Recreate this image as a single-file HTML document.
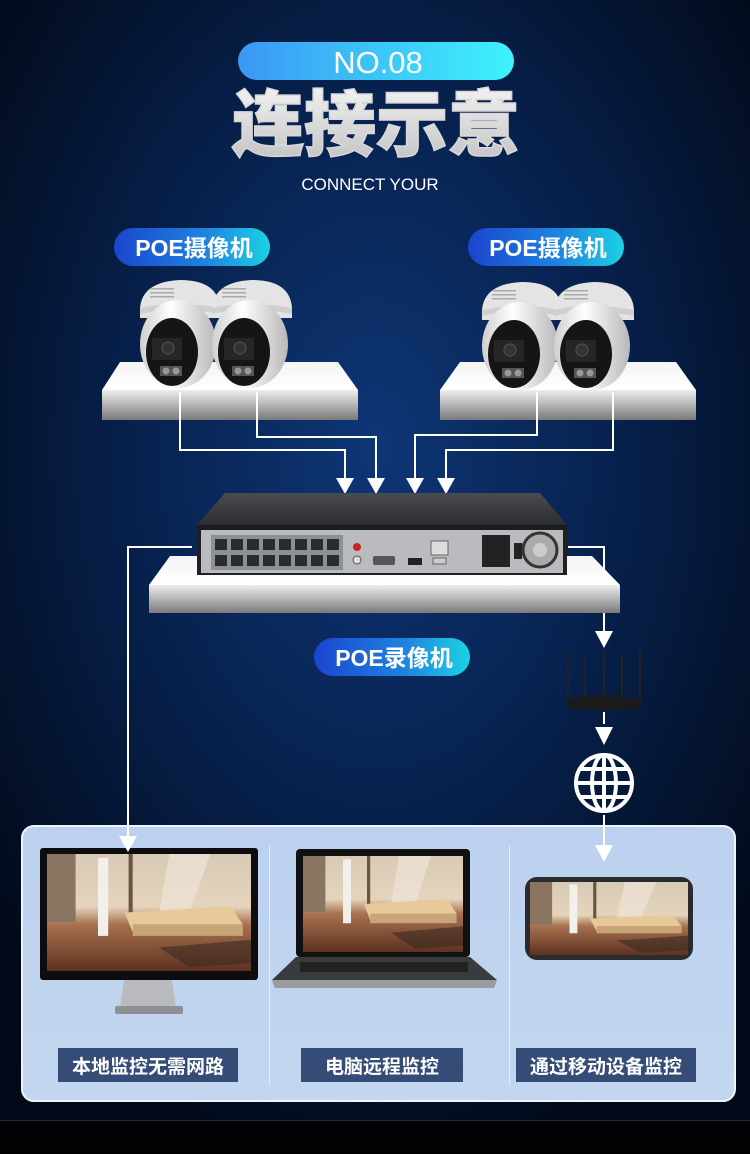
<!DOCTYPE html>
<html><head><meta charset="utf-8"><style>
*{margin:0;padding:0}
body{width:750px;height:1149px;overflow:hidden;background:#000;font-family:"Liberation Sans","Noto Sans CJK SC",sans-serif}
</style></head><body>
<svg width="750" height="1149" viewBox="0 0 750 1149" xmlns="http://www.w3.org/2000/svg" font-family="Liberation Sans, Noto Sans CJK SC, sans-serif">
<defs>
<radialGradient id="bg" cx="0.5" cy="0.4" r="0.65">
<stop offset="0" stop-color="#0e3676"/><stop offset="0.5" stop-color="#07214d"/><stop offset="1" stop-color="#020a1a"/></radialGradient>
<linearGradient id="pill1" x1="0" x2="1"><stop offset="0" stop-color="#3b97f4"/><stop offset="1" stop-color="#3df3fc"/></linearGradient>
<linearGradient id="pill2" x1="0" x2="1"><stop offset="0" stop-color="#1a45cf"/><stop offset="0.6" stop-color="#1f86e0"/><stop offset="1" stop-color="#1cd2e3"/></linearGradient>
<linearGradient id="title" x1="0" y1="0" x2="0" y2="1"><stop offset="0" stop-color="#ffffff"/><stop offset="1" stop-color="#bdbdbd"/></linearGradient>
<linearGradient id="front" x1="0" y1="0" x2="0" y2="1"><stop offset="0" stop-color="#eeeeee"/><stop offset="1" stop-color="#7a7a7a"/></linearGradient>
<linearGradient id="top" x1="0" y1="0" x2="0" y2="1"><stop offset="0" stop-color="#f4f4f4"/><stop offset="1" stop-color="#ffffff"/></linearGradient>
<linearGradient id="ball" x1="0" y1="0" x2="1" y2="0"><stop offset="0" stop-color="#cfcfcf"/><stop offset="0.4" stop-color="#ffffff"/><stop offset="1" stop-color="#b8b8b8"/></linearGradient>
<linearGradient id="nvrtop" x1="0" y1="0" x2="0" y2="1"><stop offset="0" stop-color="#4a4c50"/><stop offset="1" stop-color="#2b2d31"/></linearGradient>
<linearGradient id="room" x1="0" y1="0" x2="0" y2="1"><stop offset="0" stop-color="#d8cab6"/><stop offset="0.45" stop-color="#e4d4bc"/><stop offset="0.6" stop-color="#a87250"/><stop offset="1" stop-color="#5e3220"/></linearGradient>
<linearGradient id="panelbg" x1="0" y1="0" x2="0" y2="1"><stop offset="0" stop-color="#bcd1ef"/><stop offset="1" stop-color="#c3d6ef"/></linearGradient>
<g id="cam">
<path d="M2 36 Q0 4 42 2 Q80 2 82 30 L82 40 L2 40 Z" fill="#e4e4e4"/>
<path d="M2 30 Q40 22 82 30 L82 36 Q40 28 2 36Z" fill="#cfcfcf"/>
<ellipse cx="40" cy="66" rx="38" ry="44" fill="url(#ball)"/>
<ellipse cx="34" cy="74" rx="26" ry="34" fill="#151515"/>
<rect x="14" y="60" width="30" height="22" fill="#262626"/>
<circle cx="30" cy="70" r="6" fill="#333" stroke="#555"/>
<rect x="22" y="88" width="22" height="10" fill="#555"/>
<circle cx="28" cy="93" r="3.5" fill="#999"/><circle cx="38" cy="93" r="3.5" fill="#999"/>
<g fill="#aaa"><rect x="12" y="10" width="24" height="1.5"/><rect x="12" y="14" width="24" height="1.5"/><rect x="12" y="18" width="24" height="1.5"/></g>
</g>
<g id="roomimg">
<rect x="0" y="0" width="100" height="60" fill="url(#room)"/>
<rect x="0" y="0" width="14" height="35" fill="#8a7560"/>
<rect x="40" y="0" width="2" height="35" fill="#6a5540"/>
<path d="M60 0 L80 0 L70 30 L55 30Z" fill="#f0e8dc" opacity="0.6"/>
<rect x="25" y="2" width="5" height="40" fill="#f2f0ea"/>
<path d="M38 30 L90 27 L96 36 L42 40 Z" fill="#e8c99a"/>
<rect x="42" y="36" width="54" height="6" fill="#c8a576"/>
<path d="M55 48 L100 44 L100 56 L70 58 Z" fill="#3a2a22" opacity="0.6"/>
</g>
</defs>
<rect width="750" height="1120" fill="url(#bg)"/>
<rect y="1120" width="750" height="29" fill="#020204"/>
<rect y="1120" width="750" height="1" fill="#1c2840"/>

<!-- header -->
<rect x="238" y="42" width="276" height="38" rx="19" fill="url(#pill1)"/>
<text x="378" y="73" text-anchor="middle" font-size="31" fill="#fff">NO.08</text>
<text x="376" y="150" text-anchor="middle" font-size="72" font-weight="900" fill="url(#title)" stroke="#d8d8d8" stroke-width="1.5" font-family="Noto Sans CJK SC, sans-serif">连接示意</text>
<text x="370" y="190" text-anchor="middle" font-size="17" fill="#fff">CONNECT YOUR</text>

<rect x="114" y="228" width="156" height="38" rx="19" fill="url(#pill2)"/>
<text x="194" y="256" text-anchor="middle" font-size="23" font-weight="bold" fill="#fff">POE摄像机</text>
<rect x="468" y="228" width="156" height="38" rx="19" fill="url(#pill2)"/>
<text x="548" y="256" text-anchor="middle" font-size="23" font-weight="bold" fill="#fff">POE摄像机</text>

<!-- shelves -->
<polygon points="120,362 338,362 358,390 102,390" fill="url(#top)"/>
<rect x="102" y="390" width="256" height="30" fill="url(#front)"/>
<polygon points="460,362 676,362 696,390 440,390" fill="url(#top)"/>
<rect x="440" y="390" width="256" height="30" fill="url(#front)"/>

<use href="#cam" x="138" y="278"/>
<use href="#cam" x="210" y="278"/>
<use href="#cam" x="480" y="280"/>
<use href="#cam" x="552" y="280"/>

<!-- lines -->
<g stroke="#fff" stroke-width="2" fill="none">
<polyline points="180,392 180,450 345,450 345,480"/>
<polyline points="257,392 257,437 376,437 376,480"/>
<polyline points="537,392 537,435 415,435 415,480"/>
<polyline points="613,392 613,450 446,450 446,480"/>
<polyline points="192,547 128,547 128,838"/>
<polyline points="568,547 604,547 604,632"/>
<line x1="604" y1="712" x2="604" y2="724"/>
<line x1="604" y1="815" x2="604" y2="846"/>
</g>
<g fill="#fff">
<polygon points="336,478 354,478 345,494"/>
<polygon points="367,478 385,478 376,494"/>
<polygon points="406,478 424,478 415,494"/>
<polygon points="437,478 455,478 446,494"/>
<polygon points="595,631 613,631 604,648"/>
<polygon points="595,727 613,727 604,745"/>
</g>

<!-- NVR shelf -->
<polygon points="170,556 592,556 620,585 149,585" fill="url(#top)"/>
<rect x="149" y="585" width="471" height="28" fill="url(#front)"/>
<!-- NVR -->
<polygon points="225,493 540,493 567,525 197,525" fill="url(#nvrtop)"/>
<rect x="197" y="525" width="370" height="5" fill="#1b1c1f"/>
<rect x="197" y="530" width="370" height="45" fill="#1f2023"/>
<rect x="201" y="530" width="362" height="43" fill="#b9bbbe"/>
<rect x="211" y="535" width="132" height="35" fill="#8c8f93"/>
<g fill="#2a2b2e">
<rect x="215" y="539" width="12" height="11"/><rect x="231" y="539" width="12" height="11"/><rect x="247" y="539" width="12" height="11"/><rect x="263" y="539" width="12" height="11"/><rect x="279" y="539" width="12" height="11"/><rect x="295" y="539" width="12" height="11"/><rect x="311" y="539" width="12" height="11"/><rect x="327" y="539" width="12" height="11"/>
<rect x="215" y="555" width="12" height="11"/><rect x="231" y="555" width="12" height="11"/><rect x="247" y="555" width="12" height="11"/><rect x="263" y="555" width="12" height="11"/><rect x="279" y="555" width="12" height="11"/><rect x="295" y="555" width="12" height="11"/><rect x="311" y="555" width="12" height="11"/><rect x="327" y="555" width="12" height="11"/>
</g>
<circle cx="357" cy="547" r="4" fill="#c22"/><circle cx="357" cy="560" r="4" fill="#ddd" stroke="#555"/>
<rect x="373" y="556" width="22" height="9" rx="2" fill="#555"/>
<rect x="408" y="558" width="14" height="7" fill="#222"/>
<rect x="431" y="541" width="17" height="14" fill="#ddd" stroke="#666"/>
<rect x="433" y="558" width="13" height="6" fill="#ccc" stroke="#666"/>
<rect x="482" y="535" width="28" height="32" fill="#222"/>
<rect x="514" y="543" width="8" height="16" fill="#222"/>
<circle cx="540" cy="550" r="17" fill="#aaa" stroke="#333" stroke-width="3"/>
<circle cx="540" cy="550" r="7" fill="#ccc"/>

<rect x="314" y="638" width="156" height="38" rx="19" fill="url(#pill2)"/>
<text x="394" y="666" text-anchor="middle" font-size="23" font-weight="bold" fill="#fff">POE录像机</text>

<!-- router -->
<g stroke="#222" stroke-width="2">
<line x1="568" y1="650" x2="568" y2="700"/><line x1="585" y1="655" x2="585" y2="700"/><line x1="604" y1="650" x2="604" y2="700"/><line x1="622" y1="655" x2="622" y2="700"/><line x1="640" y1="650" x2="640" y2="700"/>
</g>
<path d="M566 700 Q604 690 642 700 L638 710 L570 710 Z" fill="#1a1a1c"/>
<!-- globe -->
<g stroke="#fff" stroke-width="4" fill="none">
<circle cx="604" cy="783" r="28"/>
<ellipse cx="604" cy="783" rx="12" ry="28"/>
<line x1="604" y1="755" x2="604" y2="811"/>
<line x1="576" y1="783" x2="632" y2="783"/>
<line x1="580" y1="769" x2="628" y2="769"/>
<line x1="580" y1="797" x2="628" y2="797"/>
</g>

<!-- bottom panel -->
<rect x="22" y="826" width="713" height="275" rx="12" fill="url(#panelbg)" stroke="#eef4fc" stroke-width="2"/>
<rect x="269" y="846" width="1" height="240" fill="#e8eef8"/>
<rect x="509" y="846" width="1" height="240" fill="#e8eef8"/>
<line x1="128" y1="826" x2="128" y2="838" stroke="#fff" stroke-width="2"/>
<line x1="604" y1="826" x2="604" y2="846" stroke="#fff" stroke-width="2"/>
<!-- monitor -->
<rect x="40" y="848" width="218" height="132" rx="3" fill="#0d0d0f"/>
<use href="#roomimg" transform="translate(47,854) scale(2.04,1.95)"/>
<path d="M124 980 L172 980 L176 1008 L120 1008 Z" fill="#b8babd"/>
<rect x="115" y="1006" width="68" height="8" rx="2" fill="#8d8f92"/>
<polygon points="119,836 137,836 128,852" fill="#fff"/>
<!-- laptop -->
<rect x="296" y="849" width="174" height="108" rx="4" fill="#111"/>
<use href="#roomimg" transform="translate(303,856) scale(1.6,1.6)"/>
<path d="M296 957 L470 957 L497 980 L272 980 Z" fill="#3a3b3e"/>
<path d="M272 980 L497 980 L494 988 L275 988 Z" fill="#9a9b9e"/>
<rect x="300" y="962" width="168" height="10" fill="#222"/>
<!-- phone -->
<rect x="525" y="877" width="168" height="83" rx="12" fill="#2a2b2e"/>
<use href="#roomimg" transform="translate(530,882) scale(1.58,1.22)"/>
<polygon points="595,845 613,845 604,862" fill="#fff"/>
<!-- labels -->
<rect x="58" y="1048" width="180" height="34" fill="#344c76"/>
<text x="148" y="1073" text-anchor="middle" font-size="19" font-weight="bold" fill="#fff">本地监控无需网路</text>
<rect x="301" y="1048" width="162" height="34" fill="#344c76"/>
<text x="382" y="1073" text-anchor="middle" font-size="19" font-weight="bold" fill="#fff">电脑远程监控</text>
<rect x="516" y="1048" width="180" height="34" fill="#344c76"/>
<text x="606" y="1073" text-anchor="middle" font-size="19" font-weight="bold" fill="#fff">通过移动设备监控</text>
</svg>
</body></html>
